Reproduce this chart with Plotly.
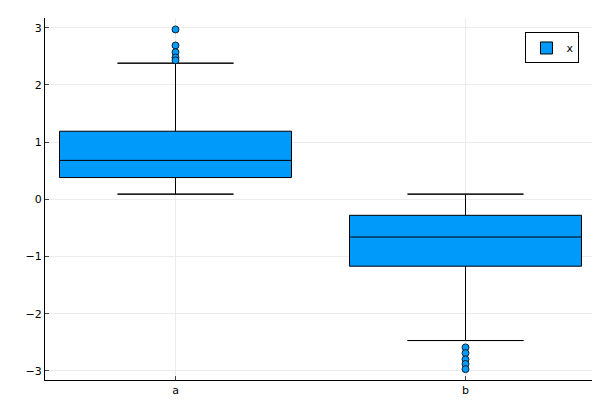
import plotly.graph_objects as go

# group positions and labels
groups = ["a", "b"]
xpos = [0, 1]

# box statistics
q1 = [0.38, -1.17]
median = [0.68, -0.66]
q3 = [1.19, -0.28]
lowerfence = [0.09, -2.47]
upperfence = [2.38, 0.09]

# outliers
out_a = [2.97, 2.69, 2.57, 2.48, 2.43]
out_b = [-2.59, -2.69, -2.80, -2.88, -2.97]

blue = "#009AFA"
fig = go.Figure()

fig.add_trace(go.Box(
    x=xpos, q1=q1, median=median, q3=q3,
    lowerfence=lowerfence, upperfence=upperfence,
    width=0.8, fillcolor=blue, line=dict(color="black", width=1),
    name="x", showlegend=True, hoverinfo="skip",
))

# whisker caps
cx, cy = [], []
for x, lo, hi in zip(xpos, lowerfence, upperfence):
    for v in (lo, hi):
        cx += [x - 0.2, x + 0.2, None]
        cy += [v, v, None]
fig.add_trace(go.Scatter(x=cx, y=cy, mode="lines",
                         line=dict(color="black", width=1), showlegend=False))

fig.add_trace(go.Scatter(
    x=[xpos[0]] * len(out_a) + [xpos[1]] * len(out_b), y=out_a + out_b,
    mode="markers", marker=dict(color=blue, size=7, line=dict(color="black", width=0.8)),
    showlegend=False,
))

fig.update_layout(
    width=600, height=400, plot_bgcolor="white", paper_bgcolor="white",
    margin=dict(l=37, r=12, t=10, b=28),
    font=dict(family="DejaVu Sans", size=11, color="black"),
    xaxis=dict(range=[-0.45, 1.45], tickvals=xpos, ticktext=groups, automargin=False,
               showgrid=True, gridcolor="#ececec", zeroline=False,
               showline=True, linecolor="black", ticks="inside", ticklen=4),
    yaxis=dict(range=[-3.16, 3.17], tickvals=[-3, -2, -1, 0, 1, 2, 3], automargin=False,
               showgrid=True, gridcolor="#ececec", zeroline=False,
               showline=True, linecolor="black", ticks="inside", ticklen=4),
    legend=dict(x=0.97, y=0.96, xanchor="right", yanchor="top",
                bordercolor="black", borderwidth=1, bgcolor="white"),
)

fig.write_html("out.html")
